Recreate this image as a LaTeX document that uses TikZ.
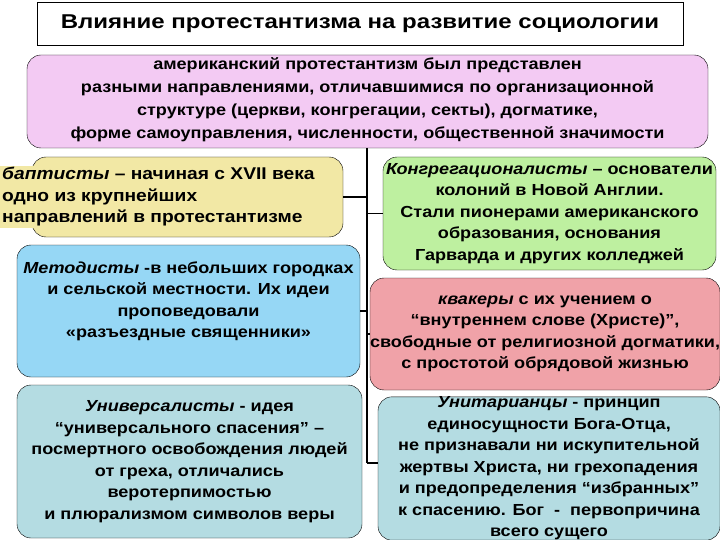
\documentclass[tikz,border=0pt]{standalone}
\usepackage{fontspec}
\setmainfont[FakeStretch=1.13]{Liberation Sans}
\newfontfamily\titlefont[FakeStretch=1.2]{Liberation Sans}
\definecolor{pinkbox}{RGB}{243,202,243}
\definecolor{yellowbox}{RGB}{242,232,165}
\definecolor{bluebox}{RGB}{150,215,245}
\definecolor{tealbox}{RGB}{180,220,226}
\definecolor{greenbox}{RGB}{190,240,160}
\definecolor{redbox}{RGB}{240,162,168}
\tikzset{
  branch/.style={draw,rounded corners=14pt,align=center,inner sep=0pt,
    font=\fontsize{16}{21.5}\selectfont\bfseries},
  link/.style={draw,line width=1.3pt}
}
\newcommand{\sect}[1]{\textit{#1}}
\begin{document}
\begin{tikzpicture}[x=1pt,y=-1pt]
        \useasboundingbox (0,0) rectangle (720,540);
        % heading and summary
        \node[draw,minimum width=646pt,minimum height=43pt,font=\titlefont\fontsize{20}{24}\selectfont\bfseries] (title) at (360,23.5) {Влияние протестантизма на развитие социологии};
        \node[branch,fill=pinkbox,minimum width=681pt,minimum height=93pt,text depth=6pt,font=\fontsize{16}{23}\selectfont\bfseries] (summary) at (367.5,101.5) {американский протестантизм был представлен\\ разными направлениями, отличавшимися по организационной\\ структуре (церкви, конгрегации, секты), догматике,\\ форме самоуправления, численности, общественной значимости};
        % left column
        \node[branch,fill=yellowbox,minimum width=311pt,minimum height=80pt] (bapt) at (187.5,197) {};
        \node[fill=yellowbox,align=left,anchor=west,inner sep=2pt,font=\fontsize{17}{21.5}\selectfont\bfseries] (bapttext) at (0,197) {\sect{баптисты} – начиная с XVII века\\ одно из крупнейших\\ направлений в протестантизме};
        \node[branch,fill=bluebox,minimum width=343pt,minimum height=132pt,text depth=23pt] (meth) at (188.5,311) {\sect{Методисты} -в небольших городках\\ и сельской местности. Их идеи\\ проповедовали\\ «разъездные священники»};
        \node[branch,fill=tealbox,minimum width=345pt,minimum height=153pt] (univ) at (189.5,461.5) {\sect{Универсалисты} - идея\\ “универсального спасения” –\\ посмертного освобождения людей\\ от греха, отличались\\ веротерпимостью\\ и плюрализмом символов веры};
        % right column
        \node[branch,fill=greenbox,minimum width=333pt,minimum height=113pt] (cong) at (549.5,213.5) {\sect{Конгрегационалисты} – основатели\\ колоний в Новой Англии.\\ Стали пионерами американского\\ образования, основания\\ Гарварда и других колледжей};
        \node[branch,fill=redbox,minimum width=346pt,minimum height=112pt] (quak) at (545,334) {\sect{квакеры} с их учением о\\ “внутреннем слове (Христе)”,\\ свободные от религиозной догматики,\\ с простотой обрядовой жизнью};
        \node[branch,fill=tealbox,minimum width=342pt,minimum height=143pt] (unit) at (549,468.5) {\sect{Унитарианцы} - принцип\\ единосущности Бога-Отца,\\ не признавали ни искупительной\\ жертвы Христа, ни грехопадения\\ и предопределения “избранных”\\ к спасению. Бог \ - \ первопричина\\ всего сущего};
        % connectors
        \coordinate (trunktop) at (367,148);
        \coordinate (trunkbot) at (367,463);
        \draw[link] (trunktop) -- (trunkbot);
        \draw[link] (bapt.east) -- (bapt.east -| trunktop);
        \draw[link] (meth.east) -- (meth.east -| trunktop);
        \draw[link] (cong.west) -- (cong.west -| trunktop);
        \draw[link] (quak.west) -- (quak.west -| trunktop);
        \draw[link] (trunkbot) -- (trunkbot -| unit.west);
    \end{tikzpicture}
\end{document}
